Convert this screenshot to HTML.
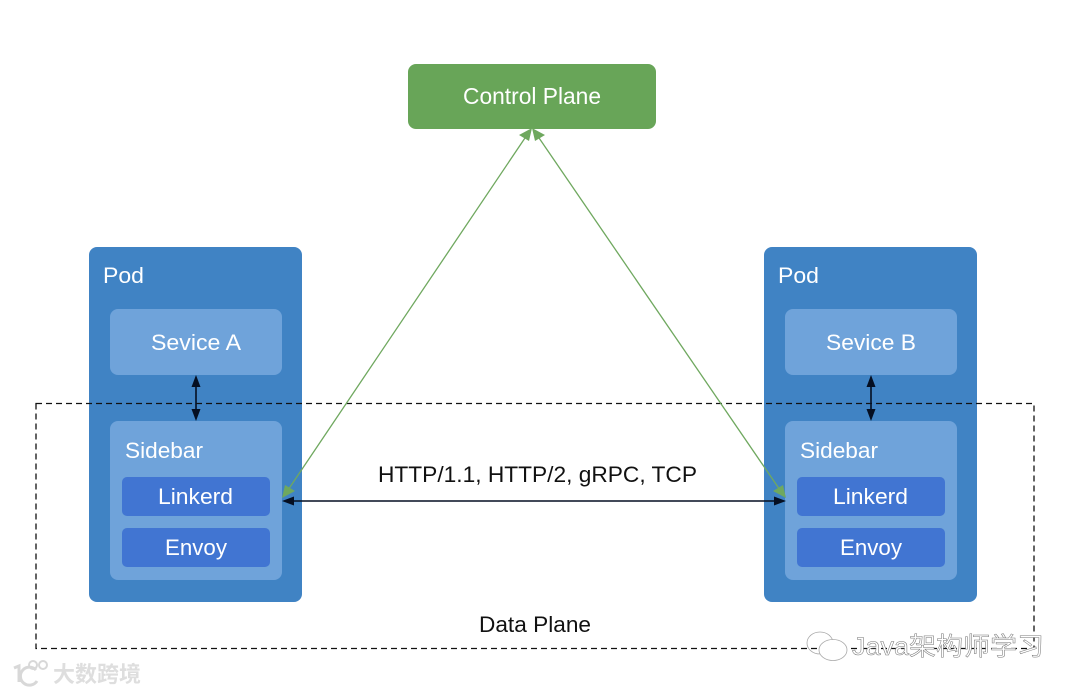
<!DOCTYPE html>
<html><head><meta charset="utf-8"><style>
html,body{margin:0;padding:0;background:#fff}
svg{display:block}
text{font-family:"Liberation Sans","Noto Sans CJK SC",sans-serif}
</style></head><body>
<svg width="1080" height="693" viewBox="0 0 1080 693" xmlns="http://www.w3.org/2000/svg">
<rect width="1080" height="693" fill="#ffffff"/>
<!-- control plane -->
<rect x="408" y="64" width="248" height="65" rx="8" fill="#68a558"/>
<text x="463" y="104" font-size="23" fill="#fff" textLength="138" lengthAdjust="spacingAndGlyphs">Control Plane</text>
<!-- left pod -->
<rect x="89" y="247" width="213" height="355" rx="8" fill="#4083c4"/>
<text x="103" y="283" font-size="22" fill="#fff" textLength="41" lengthAdjust="spacingAndGlyphs">Pod</text>
<rect x="110" y="309" width="172" height="66" rx="8" fill="#6fa3da"/>
<text x="151" y="350" font-size="22" fill="#fff" textLength="90" lengthAdjust="spacingAndGlyphs">Sevice A</text>
<rect x="110" y="421" width="172" height="159" rx="8" fill="#6fa3da"/>
<text x="125" y="458" font-size="22" fill="#fff" textLength="78" lengthAdjust="spacingAndGlyphs">Sidebar</text>
<rect x="122" y="477" width="148" height="39" rx="5" fill="#4175d2"/>
<text x="158" y="504" font-size="22" fill="#fff" textLength="75" lengthAdjust="spacingAndGlyphs">Linkerd</text>
<rect x="122" y="528" width="148" height="39" rx="5" fill="#4175d2"/>
<text x="165" y="555" font-size="22" fill="#fff" textLength="62" lengthAdjust="spacingAndGlyphs">Envoy</text>
<!-- right pod -->
<rect x="764" y="247" width="213" height="355" rx="8" fill="#4083c4"/>
<text x="778" y="283" font-size="22" fill="#fff" textLength="41" lengthAdjust="spacingAndGlyphs">Pod</text>
<rect x="785" y="309" width="172" height="66" rx="8" fill="#6fa3da"/>
<text x="826" y="350" font-size="22" fill="#fff" textLength="90" lengthAdjust="spacingAndGlyphs">Sevice B</text>
<rect x="785" y="421" width="172" height="159" rx="8" fill="#6fa3da"/>
<text x="800" y="458" font-size="22" fill="#fff" textLength="78" lengthAdjust="spacingAndGlyphs">Sidebar</text>
<rect x="797" y="477" width="148" height="39" rx="5" fill="#4175d2"/>
<text x="833" y="504" font-size="22" fill="#fff" textLength="75" lengthAdjust="spacingAndGlyphs">Linkerd</text>
<rect x="797" y="528" width="148" height="39" rx="5" fill="#4175d2"/>
<text x="840" y="555" font-size="22" fill="#fff" textLength="62" lengthAdjust="spacingAndGlyphs">Envoy</text>
<!-- dashed -->
<rect x="36" y="403.5" width="998" height="245" fill="none" stroke="#111" stroke-width="1.3" stroke-dasharray="6 4"/>
<!-- green arrows -->
<g stroke="#6fa85f" stroke-width="1.3" fill="none">
<line x1="527" y1="135" x2="288" y2="490"/>
<line x1="537" y1="135" x2="780" y2="490"/>
</g>
<g fill="#6fa85f">
<polygon points="532,128 529,141 519,135"/>
<polygon points="532,128 545,135 535,141"/>
<polygon points="282,498 285,485 295,491"/>
<polygon points="786,498 773,491 783,485"/>
</g>
<!-- black arrows -->
<g stroke="#050f22" stroke-width="1.6" fill="none">
<line x1="196" y1="384" x2="196" y2="412"/>
<line x1="871" y1="384" x2="871" y2="412"/>
<line x1="290" y1="501" x2="778" y2="501"/>
</g>
<g fill="#050f22">
<polygon points="196,375 200.500,387 191.500,387"/>
<polygon points="196,421 200.500,409 191.500,409"/>
<polygon points="871,375 875.500,387 866.500,387"/>
<polygon points="871,421 875.500,409 866.500,409"/>
<polygon points="282,501 294,496.500 294,505.500"/>
<polygon points="786,501 774,496.500 774,505.500"/>
</g>
<text x="378" y="482" font-size="22" fill="#111" textLength="319" lengthAdjust="spacingAndGlyphs">HTTP/1.1, HTTP/2, gRPC, TCP</text>
<text x="479" y="632" font-size="22" fill="#111" textLength="112" lengthAdjust="spacingAndGlyphs">Data Plane</text>
<!-- watermarks -->
<g fill="#fff" stroke="#a8a8a8" stroke-width="0.8">
<ellipse cx="820" cy="643" rx="13" ry="11" fill="none"/>
<ellipse cx="833" cy="650" rx="14" ry="10.500" fill="#fff"/>
</g>
<text x="852" y="655" font-size="25" fill="#fff" stroke="#777" stroke-width="0.5" textLength="192" lengthAdjust="spacingAndGlyphs">Java架构师学习</text>
<g fill="none" stroke="#d8d8d8" stroke-width="3">
<path d="M14 668 L19 666 V682"/>
<path d="M36 670a9 9 0 1 0 1 11"/>
<circle cx="33" cy="665" r="4" stroke-width="2"/>
<circle cx="43" cy="665" r="4" stroke-width="2"/>
</g>
<text x="53" y="682" font-size="22" fill="#dedede" font-weight="bold" textLength="88" lengthAdjust="spacingAndGlyphs">大数跨境</text>
</svg>
</body></html>
